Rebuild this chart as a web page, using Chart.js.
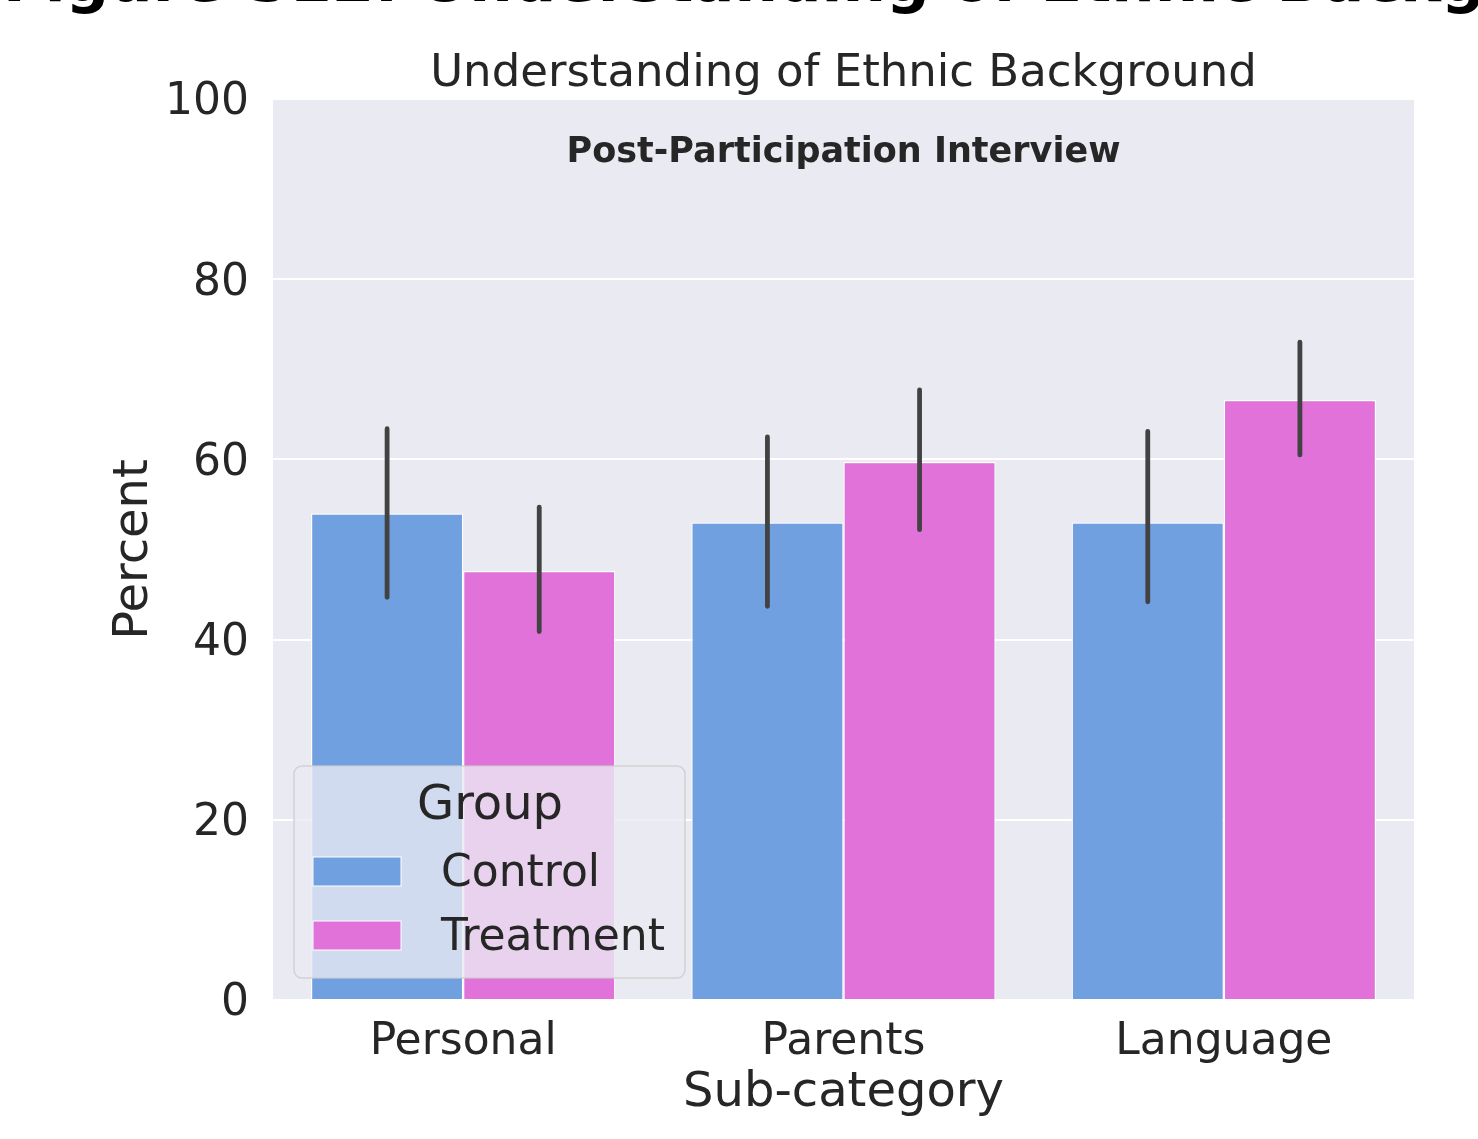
<!DOCTYPE html>
<html>
<head>
<meta charset="utf-8">
<script src="https://cdn.jsdelivr.net/npm/chart.js@4"></script>
<style>
  html, body { margin: 0; padding: 0; background: #ffffff; overflow: hidden; }
  canvas { display: block; }
</style>
</head>
<body>
<canvas id="chart" width="1478" height="1139"></canvas>
<script>
// Sub-categories on the x axis
const categories = ['Personal', 'Parents', 'Language'];
const groups = ['Control', 'Treatment'];

// Percent of participants per group
const controlPct = [54.0, 53.0, 53.0];
const treatmentPct = [47.6, 59.7, 66.6];

// 95% confidence interval bounds
const controlLow = [44.7, 43.7, 44.2];
const controlHigh = [63.4, 62.5, 63.1];
const treatmentLow = [40.9, 52.2, 60.5];
const treatmentHigh = [54.7, 67.7, 73.0];

// y axis ticks
const yTicks = [0, 20, 40, 60, 80, 100];

const FONT = '"DejaVu Sans", "Liberation Sans", sans-serif';
const TEXT = '#262626';
const BLUE = 'rgb(112,160,224)';
const PINK = 'rgb(224,114,217)';

const lows = [controlLow, treatmentLow];
const highs = [controlHigh, treatmentHigh];

const panelPlugin = {
  id: 'panel',
  beforeDraw(chart) {
    const { ctx, chartArea: a } = chart;
    ctx.save();
    ctx.fillStyle = '#ffffff';
    ctx.fillRect(0, 0, chart.width, chart.height);
    ctx.fillStyle = '#eaeaf2';
    ctx.fillRect(a.left, a.top, a.right - a.left, a.bottom - a.top);
    ctx.restore();
  },
  afterDatasetsDraw(chart) {
    // confidence interval whiskers
    const { ctx } = chart;
    const y = chart.scales.y;
    ctx.save();
    ctx.strokeStyle = '#424242';
    ctx.lineWidth = 4.8;
    ctx.lineCap = 'round';
    chart.data.datasets.forEach((ds, i) => {
      const meta = chart.getDatasetMeta(i);
      meta.data.forEach((bar, j) => {
        ctx.beginPath();
        ctx.moveTo(bar.x, y.getPixelForValue(lows[i][j]));
        ctx.lineTo(bar.x, y.getPixelForValue(highs[i][j]));
        ctx.stroke();
      });
    });
    ctx.restore();
  },
  afterDraw(chart) {
    const { ctx, chartArea: a } = chart;
    const cx = (a.left + a.right) / 2;
    ctx.save();

    // figure heading
    ctx.fillStyle = '#000000';
    ctx.font = 'bold 61px ' + FONT;
    ctx.textAlign = 'left';
    ctx.textBaseline = 'alphabetic';
    ctx.fillText('Figure S12: Understanding of Ethnic Background', 3, 1);

    // axes title
    ctx.fillStyle = TEXT;
    ctx.font = '45px ' + FONT;
    ctx.textAlign = 'center';
    ctx.fillText('Understanding of Ethnic Background', cx, a.top - 13);

    // panel annotation
    ctx.font = 'bold 35px ' + FONT;
    ctx.fillText('Post-Participation Interview', cx, a.top + 63);

    // legend
    const lx = a.left + 21, ly = a.bottom - 234, lw = 391, lh = 212;
    ctx.beginPath();
    ctx.roundRect(lx, ly, lw, lh, 8);
    ctx.fillStyle = 'rgba(234,234,242,0.8)';
    ctx.fill();
    ctx.strokeStyle = 'rgba(204,204,204,0.8)';
    ctx.lineWidth = 1.5;
    ctx.stroke();

    ctx.fillStyle = TEXT;
    ctx.font = '48px ' + FONT;
    ctx.textAlign = 'center';
    ctx.textBaseline = 'middle';
    ctx.fillText('Group', lx + 196, ly + 41);

    const colors = [BLUE, PINK];
    groups.forEach((g, i) => {
      const py = ly + 91 + i * 64;
      ctx.fillStyle = colors[i];
      ctx.fillRect(lx + 19, py, 88, 29);
      ctx.strokeStyle = '#ffffff';
      ctx.lineWidth = 1;
      ctx.strokeRect(lx + 19, py, 88, 29);
      ctx.fillStyle = TEXT;
      ctx.font = '44px ' + FONT;
      ctx.textAlign = 'left';
      ctx.fillText(g, lx + 147, py + 18);
    });
    ctx.restore();
  }
};

new Chart(document.getElementById('chart'), {
  type: 'bar',
  data: {
    labels: categories,
    datasets: [
      { label: groups[0], data: controlPct, backgroundColor: BLUE, borderColor: '#ffffff', borderWidth: 1.2,
        categoryPercentage: 0.8, barPercentage: 1.0 },
      { label: groups[1], data: treatmentPct, backgroundColor: PINK, borderColor: '#ffffff', borderWidth: 1.2,
        categoryPercentage: 0.8, barPercentage: 1.0 }
    ]
  },
  options: {
    responsive: false,
    animation: false,
    devicePixelRatio: 1,
    layout: { padding: { top: 99, right: 64, left: 0, bottom: 0 } },
    plugins: {
      legend: { display: false },
      tooltip: { enabled: false },
      title: { display: false }
    },
    scales: {
      x: {
        grid: { display: false },
        border: { display: false },
        ticks: { font: { family: FONT, size: 44 }, color: TEXT, padding: 8 },
        title: { display: true, text: 'Sub-category', color: TEXT,
                 font: { family: FONT, size: 48 }, padding: { top: 0, bottom: 17 } },
        afterFit(scale) { scale.height = 139; }
      },
      y: {
        min: 0,
        max: 100,
        afterBuildTicks(scale) { scale.ticks = yTicks.map(v => ({ value: v })); },
        grid: { color: '#ffffff', lineWidth: 2, drawTicks: false },
        border: { display: false },
        ticks: { font: { family: FONT, size: 44 }, color: TEXT, padding: 24, labelOffset: 4 },
        title: { display: true, text: 'Percent', color: TEXT,
                 font: { family: FONT, size: 48 }, padding: { top: 106, bottom: 0 } },
        afterFit(scale) { scale.width = 273; }
      }
    }
  },
  plugins: [panelPlugin]
});
</script>
</body>
</html>
